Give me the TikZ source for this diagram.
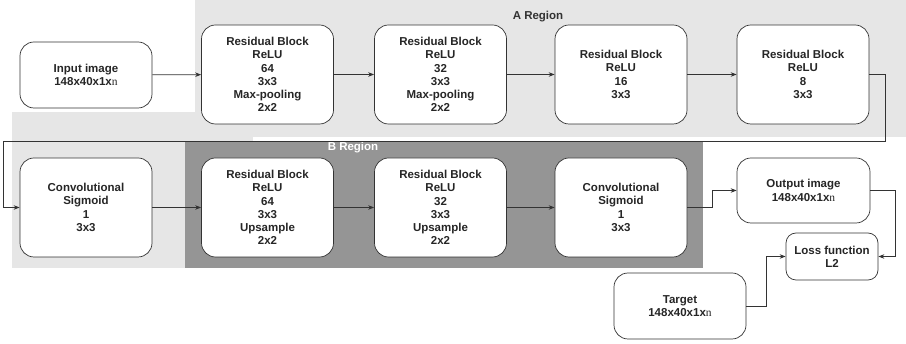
\documentclass[tikz,border=0pt]{standalone}
\usepackage{fontspec}
\setmainfont{Liberation Sans}
\newfontfamily\nfont{Liberation Serif}
\usetikzlibrary{arrows.meta}
\definecolor{lightbg}{HTML}{E6E6E6}
\definecolor{darkbg}{HTML}{959595}
\definecolor{linec}{HTML}{333333}
\newcommand{\nn}{{\nfont\mdseries n}}
\begin{document}
\begin{tikzpicture}[x=1pt,y=-1pt,
  blk/.style={draw=linec,line width=0.7pt,fill=white,rounded corners=14pt,align=center,
    font=\fontsize{11.5}{13.3}\selectfont\bfseries,inner sep=0pt,text=black!85},
  big/.style={blk,minimum width=132pt,minimum height=99pt},
  small/.style={blk,minimum width=132pt,minimum height=66pt},
  arr/.style={draw=linec,line width=0.7pt,-{Stealth[length=6pt,width=4.5pt]}}]
\useasboundingbox (0,0) rectangle (906,344);
\fill[lightbg] (195,0) rectangle (906,137);
\fill[lightbg] (12,112) rectangle (253,268);
\fill[darkbg] (185,141) rectangle (703,268);
\node[font=\fontsize{11.5}{13}\selectfont\bfseries,text=black!80] (areg) at (538,17) {A Region};
\node[font=\fontsize{11.5}{13}\selectfont\bfseries,text=white] (breg) at (353,148) {B Region};
\node[small] (input) at (86,75) {Input image\\148x40x1x\nn};
\node[big] (rb1) at (267.5,74.5) {Residual Block\\ReLU\\64\\3x3\\Max-pooling\\2x2};
\node[big] (rb2) at (440.5,74.5) {Residual Block\\ReLU\\32\\3x3\\Max-pooling\\2x2};
\node[big] (rb3) at (621,74.5) {Residual Block\\ReLU\\16\\3x3};
\node[big] (rb4) at (803,74.5) {Residual Block\\ReLU\\8\\3x3};
\node[big] (conv1) at (86,207.5) {Convolutional\\Sigmoid\\1\\3x3};
\node[big] (rb5) at (267.5,207.5) {Residual Block\\ReLU\\64\\3x3\\Upsample\\2x2};
\node[big] (rb6) at (440.5,207.5) {Residual Block\\ReLU\\32\\3x3\\Upsample\\2x2};
\node[big] (conv2) at (621,207.5) {Convolutional\\Sigmoid\\1\\3x3};
\node[small,minimum width=133pt,minimum height=65pt] (output) at (803.5,190.5) {Output image\\148x40x1x\nn};
\node[blk,rounded corners=10pt,minimum width=92pt,minimum height=47pt] (loss) at (832,256.5) {Loss function\\L2};
\node[small] (target) at (680,306) {Target\\148x40x1x\nn};
\coordinate (t1) at (885,141);
\coordinate (t2) at (3,207.5);
\draw[arr] (input) -- (rb1);
\draw[arr] (rb1) -- (rb2);
\draw[arr] (rb2) -- (rb3);
\draw[arr] (rb3) -- (rb4);
\draw[arr] (rb4.east) -| (t1) -| (t2) -- (conv1.west);
\draw[arr] (conv1) -- (rb5);
\draw[arr] (rb5) -- (rb6);
\draw[arr] (rb6) -- (conv2);
\draw[arr] (conv2.east) -- ++(25,0) |- (output.west);
\draw[arr] (output.east) -- ++(25,0) |- (loss.east);
\draw[arr] (target.east) -- ++(20,0) |- (loss.west);
\end{tikzpicture}
\end{document}
